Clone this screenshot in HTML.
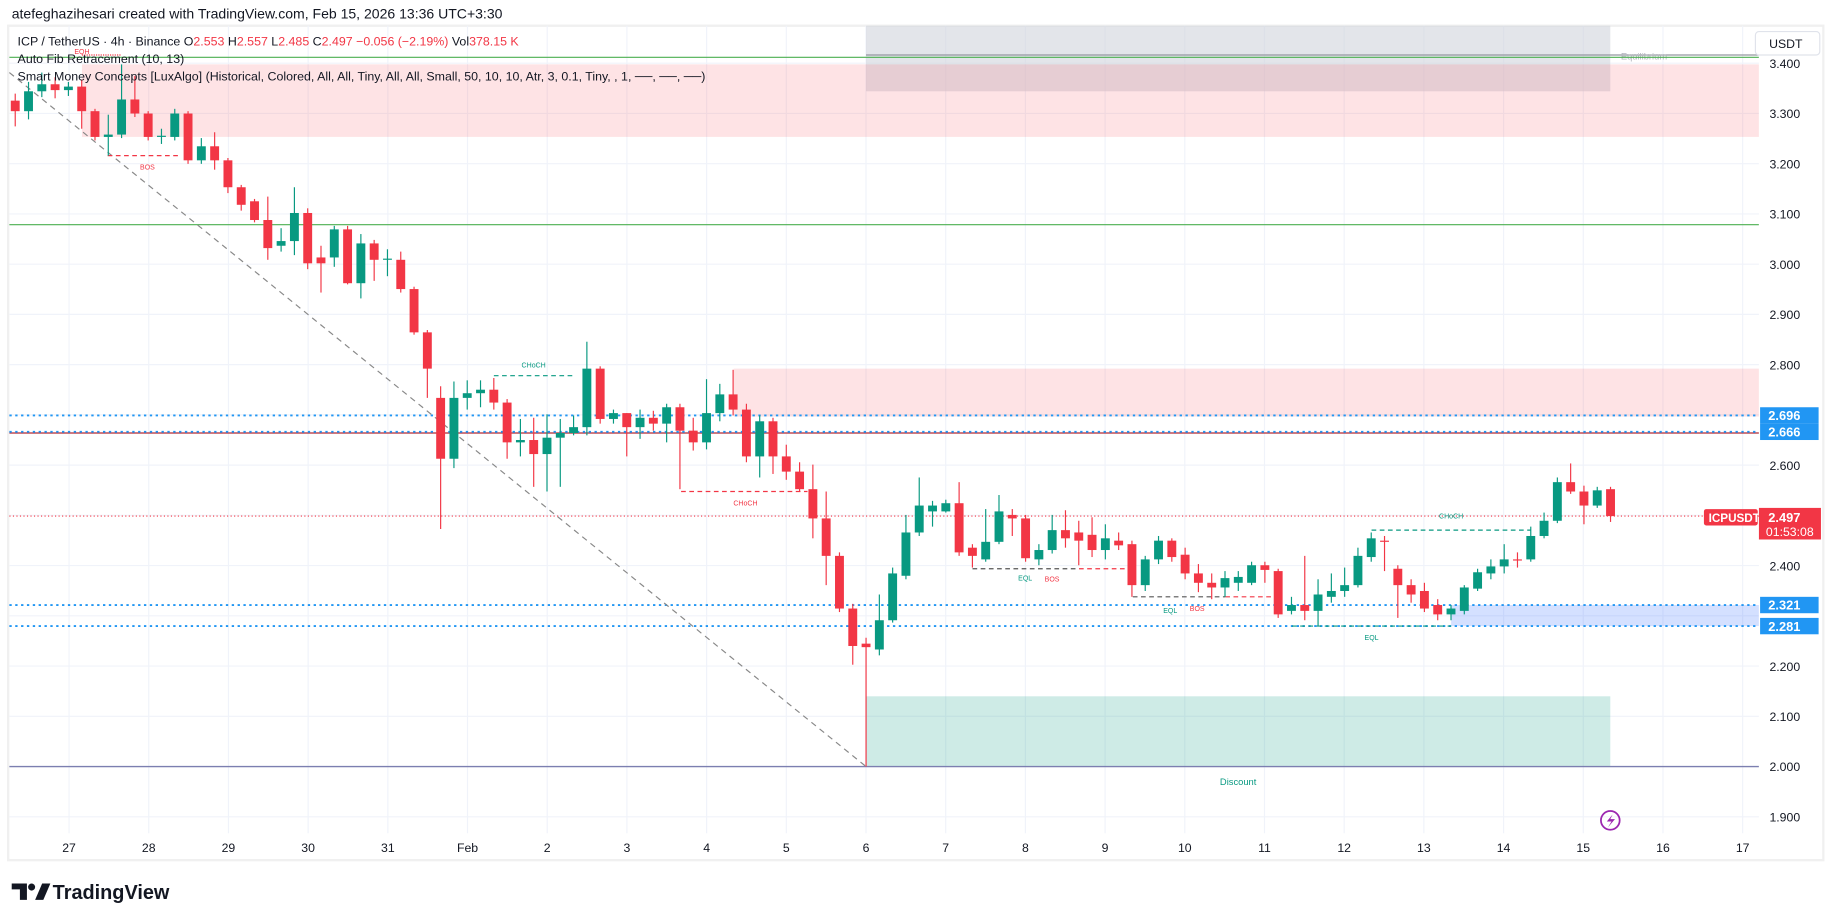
<!DOCTYPE html>
<html><head><meta charset="utf-8">
<style>
html,body{margin:0;padding:0;background:#fff;width:1835px;height:921px;overflow:hidden}
svg{display:block}
text{font-family:"Liberation Sans",sans-serif}
</style></head>
<body>
<svg id="s" width="1835" height="921" viewBox="0 0 1568 787" xmlns="http://www.w3.org/2000/svg">
<rect width="1568" height="787" fill="#fff"/>
<text x="10" y="16" font-size="12" fill="#131722">atefeghazihesari created with TradingView.com, Feb 15, 2026 13:36 UTC+3:30</text>
<rect x="7" y="22" width="1551" height="713" fill="#fff" stroke="#f0f0f0" stroke-width="2"/>
<g id="grid" stroke="#f0f3fa" stroke-width="1"></g>
<rect x="740" y="22" width="636" height="56" fill="#d1d4dc" opacity="0.6"/>
<rect x="70" y="55" width="1433" height="62" fill="#f7525f" opacity="0.16"/>
<rect x="627" y="315" width="876" height="41" fill="#f7525f" opacity="0.16"/>
<rect x="1240" y="517" width="263" height="18" fill="#2962ff" opacity="0.2"/>
<rect x="740" y="595" width="636" height="60" fill="#089981" opacity="0.2"/>
<line x1="740" y1="47" x2="1503" y2="47" stroke="#9598a1" stroke-width="1"/>
<text x="1385" y="51" font-size="8" fill="#b2b5be">Equilibrium</text>
<line x1="8" y1="49" x2="1503" y2="49" stroke="#4caf50" stroke-width="1"/>
<line x1="8" y1="192" x2="1503" y2="192" stroke="#4caf50" stroke-width="1"/>
<line x1="8" y1="655" x2="1503" y2="655" stroke="#7c7fb0" stroke-width="1.2"/>
<line x1="8" y1="370" x2="1503" y2="370" stroke="#b22833" stroke-width="1"/>
<line x1="8" y1="355" x2="1503" y2="355" stroke="#2196f3" stroke-width="1.6" stroke-dasharray="2,3"/>
<line x1="8" y1="369" x2="1503" y2="369" stroke="#2196f3" stroke-width="1.6" stroke-dasharray="2,3"/>
<line x1="8" y1="517" x2="1503" y2="517" stroke="#2196f3" stroke-width="1.6" stroke-dasharray="2,3"/>
<line x1="8" y1="535" x2="1503" y2="535" stroke="#2196f3" stroke-width="1.6" stroke-dasharray="2,3"/>
<line x1="8" y1="441" x2="1503" y2="441" stroke="#f23645" stroke-width="1" stroke-dasharray="1,2"/>
<line x1="8" y1="62" x2="740" y2="655" stroke="#888" stroke-width="1" stroke-dasharray="5,4"/>
<g stroke-width="1" stroke-dasharray="4,3" fill="none">
<line x1="92" y1="133" x2="155" y2="133" stroke="#f23645"/>
<line x1="70" y1="47" x2="104" y2="47" stroke="#f23645" stroke-dasharray="1,1"/>
<line x1="422" y1="321" x2="492" y2="321" stroke="#089981"/>
<line x1="582" y1="420" x2="690" y2="420" stroke="#f23645"/>
<line x1="831" y1="486" x2="922" y2="486" stroke="#555"/>
<line x1="922" y1="486" x2="968" y2="486" stroke="#f23645"/>
<line x1="968" y1="510" x2="1047" y2="510" stroke="#555"/>
<line x1="1047" y1="510" x2="1093" y2="510" stroke="#f23645"/>
<line x1="1172" y1="453" x2="1308" y2="453" stroke="#089981"/>
<line x1="1104" y1="535" x2="1240" y2="535" stroke="#089981"/>
</g>
<g font-size="6" text-anchor="middle">
<text x="126" y="145" fill="#f23645">BOS</text>
<text x="70" y="46" fill="#f23645">EQH</text>
<text x="456" y="314" fill="#089981">CHoCH</text>
<text x="637" y="432" fill="#f23645">CHoCH</text>
<text x="876" y="496" fill="#089981">EQL</text>
<text x="899" y="497" fill="#f23645">BOS</text>
<text x="1000" y="524" fill="#089981">EQL</text>
<text x="1023" y="522" fill="#f23645">BOS</text>
<text x="1240" y="443" fill="#089981">CHoCH</text>
<text x="1172" y="547" fill="#089981">EQL</text>
</g>
<text x="1058" y="671" font-size="8" fill="#089981" text-anchor="middle">Discount</text>
<g id="candles"></g>
<g font-size="10.6" fill="#131722">
<text x="15" y="39">ICP / TetherUS · 4h · Binance  O<tspan fill="#f23645">2.553</tspan>  H<tspan fill="#f23645">2.557</tspan>  L<tspan fill="#f23645">2.485</tspan>  C<tspan fill="#f23645">2.497</tspan>  <tspan fill="#f23645">−0.056 (−2.19%)</tspan>  Vol<tspan fill="#f23645">378.15 K</tspan></text>
<text x="15" y="54">Auto Fib Retracement (10, 13)</text>
<text x="15" y="69">Smart Money Concepts [LuxAlgo] (Historical, Colored, All, All, Tiny, All, All, Small, 50, 10, 10, Atr, 3, 0.1, Tiny, , 1, ──, ──, ──)</text>
</g>
<rect x="1503" y="23" width="54" height="711" fill="#fff"/>
<rect x="1500" y="27" width="55" height="20" rx="3" fill="#fff" stroke="#e0e3eb"/>
<text x="1526" y="41" font-size="10.5" fill="#131722" text-anchor="middle">USDT</text>
<g id="ylab" font-size="10.5" fill="#131722"></g>
<g font-size="11" fill="#fff" font-weight="bold">
<rect x="1504" y="348" width="50" height="14" fill="#2196f3"/><text x="1511" y="359">2.696</text>
<rect x="1504" y="362" width="50" height="14" fill="#2196f3"/><text x="1511" y="373">2.666</text>
<rect x="1504" y="510" width="50" height="14" fill="#2196f3"/><text x="1511" y="521">2.321</text>
<rect x="1504" y="528" width="50" height="14" fill="#2196f3"/><text x="1511" y="539">2.281</text>
<rect x="1456" y="435" width="46" height="14" rx="2" fill="#f23645"/><text x="1460" y="446" font-size="10">ICPUSDT</text>
<rect x="1503" y="434" width="53" height="27" fill="#f23645"/><text x="1511" y="446">2.497</text>
<text x="1509" y="458" font-weight="normal" font-size="10.5">01:53:08</text>
</g>
<g id="xlab" font-size="10.5" fill="#131722" text-anchor="middle"></g>
<circle cx="1376" cy="701" r="8" fill="none" stroke="#9c27b0" stroke-width="1.5"/>
<path d="M1378 696 L1373 702 L1377 702 L1374 707 L1380 700 L1376 700 Z" fill="#9c27b0"/>
<g fill="#131722">
<path d="M10 755 h13 v14 h-6 v-9 h-7 z"/><circle cx="27" cy="758" r="3"/><path d="M30 769 l6 -14 h7 l-6 14 z"/>
<text x="45" y="768" font-size="17" font-weight="bold">TradingView</text>
</g>
</svg>
<script>
(function(){
var NS="http://www.w3.org/2000/svg";
function el(p,t,a){var e=document.createElementNS(NS,t);for(var k in a)e.setAttribute(k,a[k]);p.appendChild(e);return e;}
var grid=document.getElementById("grid"),yl=document.getElementById("ylab"),xl=document.getElementById("xlab");
var labs=["3.400","3.300","3.200","3.100","3.000","2.900","2.800","2.700","2.600","2.500","2.400","2.300","2.200","2.100","2.000","1.900"];
for(var i=0;i<labs.length;i++){var y=54+i*42.93;el(grid,"line",{x1:8,y1:y,x2:1503,y2:y});
 if(labs[i]!="2.700"&&labs[i]!="2.500"&&labs[i]!="2.300"){var t=el(yl,"text",{x:1512,y:y+4});t.textContent=labs[i];}}
var dl=["27","28","29","30","31","Feb","2","3","4","5","6","7","8","9","10","11","12","13","14","15","16","17"];
for(i=0;i<dl.length;i++){var x=59+i*68.1;el(grid,"line",{x1:x,y1:22,x2:x,y2:712});var t2=el(xl,"text",{x:x,y:728});t2.textContent=dl[i];}
var d=[[86,95,80,108],[95,78,70,102],[78,72,62,83],[72,77,66,84],[77,74,70,82],[74,95,68,110],[95,117,93,120],[117,115,98,133],[115,85,55,118],[85,97,65,100],[97,117,95,120],[117,116,110,123],[117,97,93,120],[97,137,95,140],[137,125,118,140],[125,137,113,145],[137,160,135,165],[160,175,158,180],[172,188,170,190],[188,212,168,222],[210,206,195,215],[206,182,160,218],[182,225,178,230],[220,225,210,250],[220,196,193,228],[196,242,193,243],[242,208,200,255],[208,222,205,240],[222,221,213,236],[222,247,215,250],[247,284,245,286],[284,315,282,340],[340,392,330,452],[392,340,326,400],[340,336,325,350],[336,333,325,348],[333,344,323,350],[344,378,341,392],[378,376,358,390],[376,388,357,416],[388,374,354,420],[374,370,358,416],[370,365,355,372],[365,315,292,372],[315,358,313,362],[358,353,350,362],[353,365,353,390],[365,357,350,375],[357,362,351,368],[362,348,345,378],[348,368,345,418],[368,378,357,385],[378,353,324,384],[353,337,328,360],[337,350,316,355],[350,390,345,395],[390,360,355,408],[360,390,357,405],[390,403,380,410],[403,418,395,420],[418,443,397,460],[443,475,420,500],[475,520,472,523],[520,552,516,568],[550,553,545,655],[555,530,508,560],[530,490,485,532],[492,455,440,495],[455,432,408,458],[437,432,428,450],[437,430,427,438],[430,472,412,475],[468,475,465,485],[478,463,435,480],[463,437,423,465],[440,443,435,458],[443,477,440,480],[478,470,465,483],[470,453,440,473],[453,460,436,468],[455,462,445,483],[457,470,442,476],[470,460,448,478],[462,466,455,470],[465,500,462,510],[500,478,475,505],[478,462,458,482],[462,476,460,480],[474,490,468,495],[490,498,482,506],[498,502,490,512],[502,494,488,510],[498,493,488,505],[498,483,480,500],[483,487,480,498],[488,525,486,528],[522,517,510,525],[517,522,475,530],[522,508,495,535],[510,505,490,515],[505,500,485,510],[500,475,468,502],[476,460,455,480],[462,462,458,488],[486,500,483,528],[500,508,495,515],[505,520,498,523],[517,525,512,530],[525,520,517,530],[522,502,500,525],[503,489,486,505],[490,484,478,495],[484,478,465,490],[478,478,472,485],[478,458,450,480],[458,445,438,460],[445,412,408,447],[412,420,396,422],[420,432,415,448],[432,419,416,434],[418,441,416,446]];
var g=document.getElementById("candles");
for(i=0;i<d.length;i++){var cx=13+i*11.36,c=d[i],up=c[1]<c[0],col=up?"#089981":"#f23645";
 el(g,"line",{x1:cx,y1:c[2],x2:cx,y2:c[3],stroke:col,"stroke-width":1});
 var by=Math.min(c[0],c[1]),bh=Math.max(1,Math.abs(c[0]-c[1]));
 el(g,"rect",{x:cx-3.8,y:by,width:7.6,height:bh,fill:col});}
})();
</script>
</body></html>
